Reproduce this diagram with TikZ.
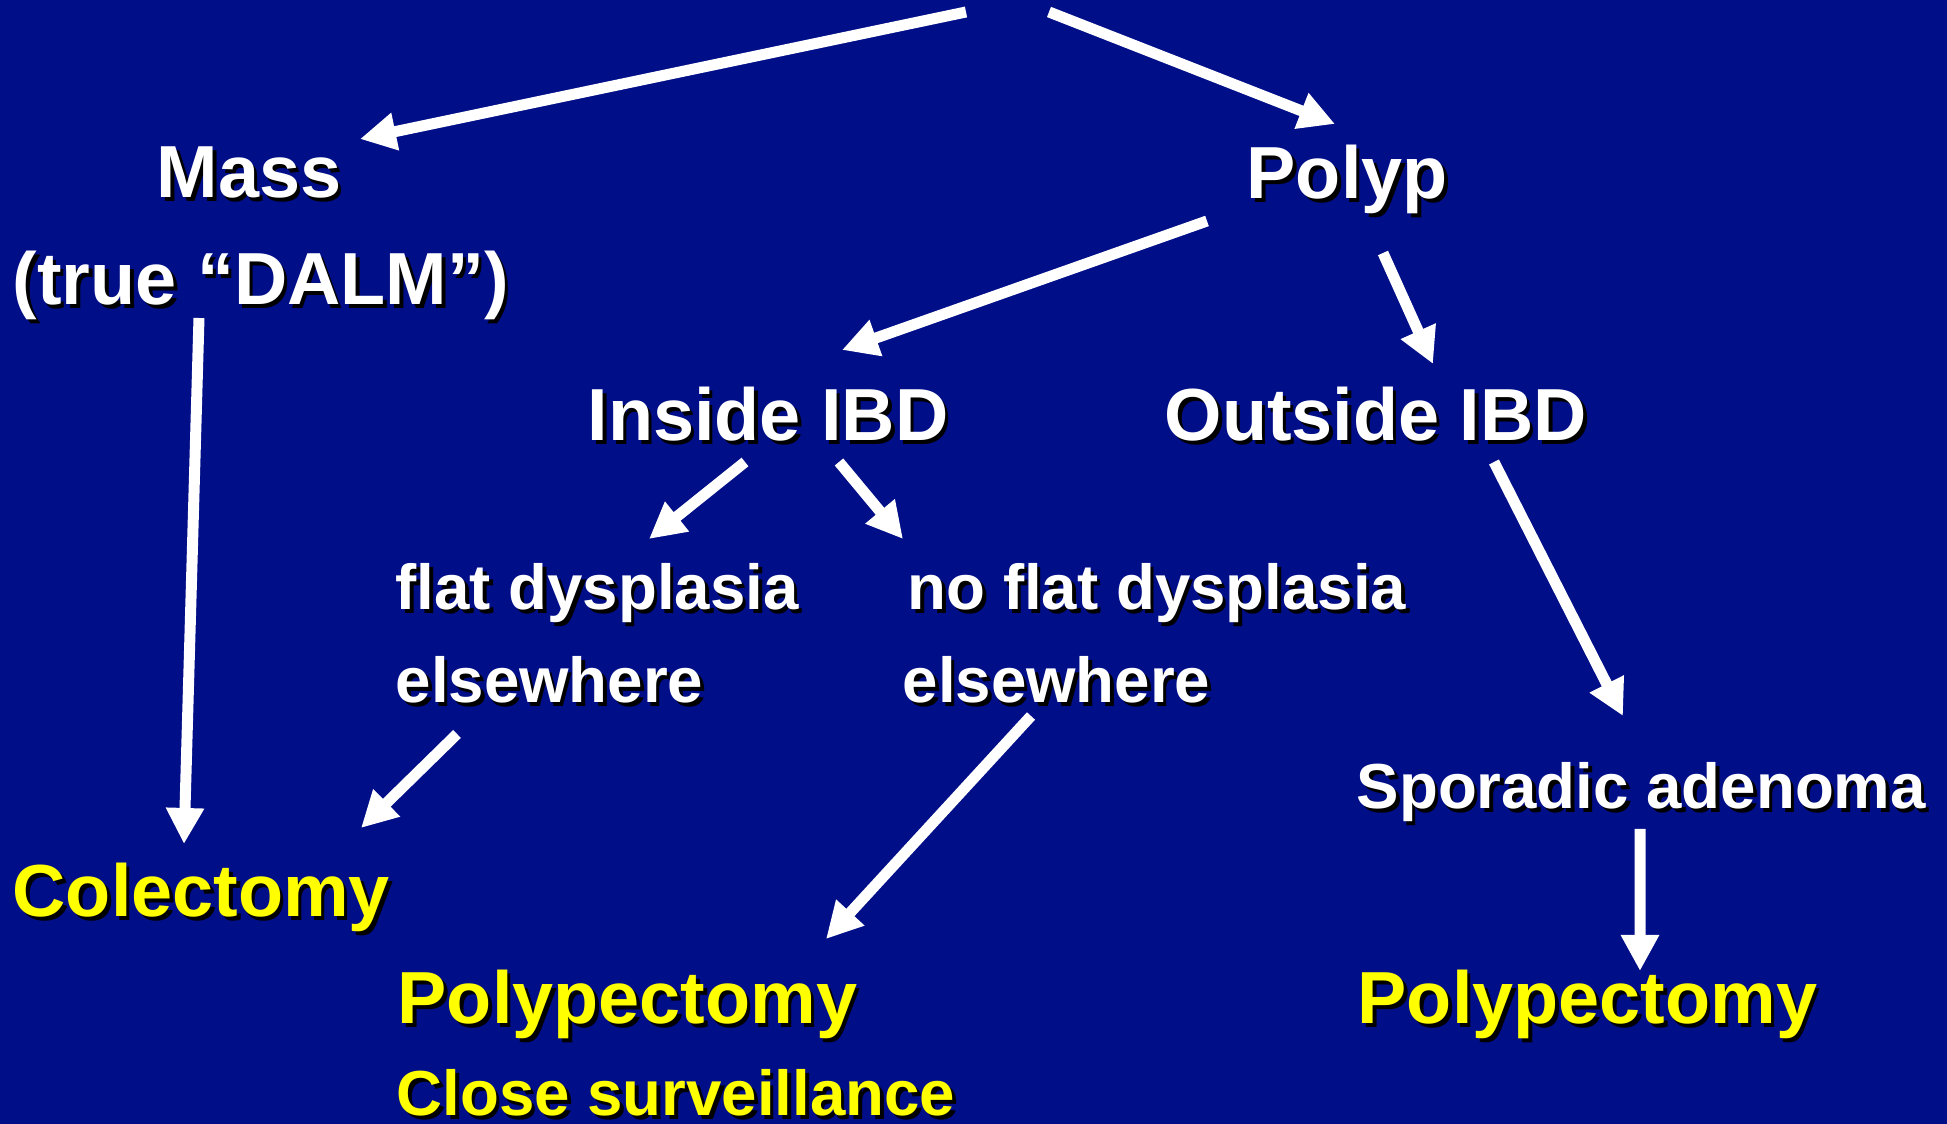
\documentclass[tikz,border=0pt]{standalone}
\usepackage{fontspec}
\setmainfont{Liberation Sans}
\usetikzlibrary{arrows.meta}
\definecolor{slideblue}{RGB}{0,14,135}
\definecolor{slideyellow}{RGB}{255,255,0}
\newcommand{\shd}[1]{\rlap{\hspace*{0.035cm}\raisebox{-0.035cm}{\color{black}#1}}#1}

\begin{document}
\begin{tikzpicture}[
  >={Triangle[length=0.36cm,width=0.36cm]},
  lbl/.style={
    anchor=base west,
    inner sep=0pt,
    text=white,
    font=\bfseries\fontsize{21}{25}\selectfont
  },
  sub/.style={lbl, font=\bfseries\fontsize{18.1}{22}\selectfont},
  act/.style={lbl, text=slideyellow},
  actsub/.style={sub, text=slideyellow},
  arr/.style={->, white, line width=0.11cm}
]
\fill[slideblue] (0,0) rectangle (19.47,-11.24);
\useasboundingbox (0,0) rectangle (19.47,-11.24);

\coordinate (root) at (10.07,-0.12);
\node[lbl]    (mass)       at (1.56,-1.98)  {\shd{Mass}};
\node[lbl]    (dalm)       at (0.12,-3.05)  {\shd{(true “DALM”)}};
\node[lbl]    (polyp)      at (12.46,-1.99) {\shd{Polyp}};
\node[lbl]    (inside)     at (5.87,-4.41)  {\shd{Inside IBD}};
\node[lbl]    (outside)    at (11.64,-4.41) {\shd{Outside IBD}};
\node[sub]    (flat)       at (3.95,-6.10)  {\shd{flat dysplasia}};
\node[sub]    (flatelse)   at (3.95,-7.03)  {\shd{elsewhere}};
\node[sub]    (noflat)     at (9.07,-6.10)  {\shd{no flat dysplasia}};
\node[sub]    (noflatelse) at (9.02,-7.03)  {\shd{elsewhere}};
\node[sub]    (sporadic)   at (13.56,-8.09) {\shd{Sporadic adenoma}};
\node[act]    (colect)     at (0.12,-9.17)  {\shd{Colectomy}};
\node[act]    (polypmid)   at (3.97,-10.24) {\shd{Polypectomy}};
\node[actsub] (surv)       at (3.96,-11.16) {\shd{Close surveillance}};
\node[act]    (polypright) at (13.57,-10.24) {\shd{Polypectomy}};

\draw[arr] ([xshift=-0.41cm]root) -- ([shift={(2.04,0.59)}]mass.base west);
\draw[arr] ([xshift=0.42cm]root) -- ([shift={(0.89,0.75)}]polyp.base west);
\draw[arr] ([shift={(1.87,-0.13)}]dalm.base west) -- ([shift={(1.72,0.73)}]colect.base west);
\draw[arr] ([shift={(-0.39,-0.22)}]polyp.base west) -- ([shift={(2.55,0.91)}]inside.base west);
\draw[arr] ([shift={(1.37,-0.54)}]polyp.base west) -- ([shift={(2.69,0.77)}]outside.base west);
\draw[arr] ([shift={(1.58,-0.21)}]inside.base west) -- ([shift={(2.54,0.71)}]flat.base west);
\draw[arr] ([shift={(2.52,-0.21)}]inside.base west) -- ([shift={(-0.04,0.71)}]noflat.base west);
\draw[arr] ([shift={(3.30,-0.21)}]outside.base west) -- ([shift={(2.67,0.93)}]sporadic.base west);
\draw[arr] ([shift={(0.62,-0.31)}]flatelse.base west) -- ([shift={(3.49,0.89)}]colect.base west);
\draw[arr] ([shift={(1.29,-0.13)}]noflatelse.base west) -- ([shift={(4.29,0.85)}]polypmid.base west);
\draw[arr] ([shift={(2.84,-0.20)}]sporadic.base west) -- ([shift={(2.83,0.53)}]polypright.base west);
\end{tikzpicture}
\end{document}
